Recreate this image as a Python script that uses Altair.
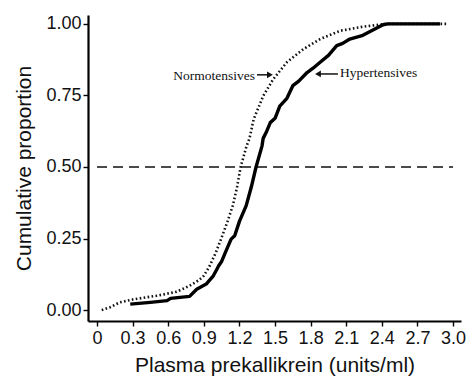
import altair as alt
import pandas as pd

# Normotensives (dotted ECDF)
norm_x = [0.04, 0.11, 0.19, 0.31, 0.50, 0.67, 0.78, 0.86, 0.90, 0.95, 1.00, 1.045,
          1.10, 1.144, 1.18, 1.21, 1.26, 1.285, 1.32, 1.40, 1.485, 1.60, 1.74, 1.88,
          2.05, 2.24, 2.44, 2.95]
norm_y = [0.0, 0.01, 0.027, 0.038, 0.05, 0.064, 0.085, 0.105, 0.12, 0.155, 0.20, 0.248,
          0.31, 0.365, 0.43, 0.50, 0.573, 0.60, 0.667, 0.748, 0.807, 0.866, 0.912, 0.947,
          0.976, 0.99, 1.0, 1.0]

# Hypertensives (solid ECDF, with its small steps)
hyp_x = [0.28, 0.45, 0.59, 0.62, 0.78, 0.84, 0.92, 0.98, 1.01, 1.025, 1.05, 1.08, 1.13,
         1.16, 1.20, 1.257, 1.30, 1.34, 1.39, 1.40, 1.43, 1.46, 1.50, 1.54, 1.60, 1.65,
         1.70, 1.77, 1.82, 1.88, 1.95, 2.02, 2.07, 2.13, 2.24, 2.41, 2.45, 2.89]
hyp_y = [0.021, 0.027, 0.033, 0.041, 0.048, 0.073, 0.091, 0.12, 0.143, 0.155, 0.17, 0.20, 0.248,
         0.26, 0.31, 0.365, 0.43, 0.50, 0.573, 0.60, 0.625, 0.655, 0.67, 0.713, 0.74, 0.784,
         0.80, 0.83, 0.845, 0.866, 0.89, 0.924, 0.932, 0.947, 0.96, 0.997, 1.0, 1.0]

x_ticks = [0, 0.3, 0.6, 0.9, 1.2, 1.5, 1.8, 2.1, 2.4, 2.7, 3.0]
y_ticks = [0, 0.25, 0.5, 0.75, 1.0]

ref_x = [0.0, 3.0]
ref_y = [0.5, 0.5]

labels = ["Normotensives", "Hypertensives"]
label_x = [1.331, 2.047]
label_y = [0.804, 0.813]
arrow_tail = [1.348, 2.03]
arrow_head = [1.457, 1.862]
arrow_y = [0.822, 0.825]
arrow_shape = ["triangle-right", "triangle-left"]

xs = alt.Scale(domain=[-0.076, 3.067], nice=False, zero=False)
ys = alt.Scale(domain=[-0.038, 1.031], nice=False, zero=False)

x_axis = alt.Axis(
    values=x_ticks,
    labelExpr="datum.value == 0 ? '0' : format(datum.value, '.1f')",
    title="Plasma prekallikrein (units/ml)",
    grid=False,
)
y_axis = alt.Axis(
    values=y_ticks,
    format=".2f",
    title="Cumulative proportion",
    grid=False,
)

norm_df = pd.DataFrame({"x": norm_x, "y": norm_y, "o": list(range(len(norm_x)))})
hyp_df = pd.DataFrame({"x": hyp_x, "y": hyp_y, "o": list(range(len(hyp_x)))})
ref_df = pd.DataFrame({"x": ref_x, "y": ref_y})
lab_df = pd.DataFrame({"x": label_x, "y": label_y, "t": labels})
arr_df = pd.DataFrame({"x": arrow_tail, "x2": arrow_head, "y": arrow_y, "s": arrow_shape})

X = alt.X("x:Q", scale=xs, axis=x_axis)
Y = alt.Y("y:Q", scale=ys, axis=y_axis)

norm = alt.Chart(norm_df).mark_line(
    color="#111", strokeWidth=2.6, strokeDash=[1.6, 2.4], strokeCap="butt"
).encode(x=X, y=Y, order="o:Q")

hyp = alt.Chart(hyp_df).mark_line(
    color="#000", strokeWidth=3.4, strokeJoin="round"
).encode(x=X, y=Y, order="o:Q")

ref = alt.Chart(ref_df).mark_line(
    color="#111", strokeWidth=1.6, strokeDash=[10, 6]
).encode(x=X, y=Y)

text_norm = alt.Chart(lab_df.iloc[[0]]).mark_text(
    font="Liberation Serif", fontSize=13.5, align="right", baseline="alphabetic", color="#111"
).encode(x=X, y=Y, text="t:N")
text_hyp = alt.Chart(lab_df.iloc[[1]]).mark_text(
    font="Liberation Serif", fontSize=13.5, align="left", baseline="alphabetic", color="#111"
).encode(x=X, y=Y, text="t:N")

shaft = alt.Chart(arr_df).mark_rule(color="#111", strokeWidth=1.5).encode(
    x=X, x2="x2:Q", y=Y
)
heads = alt.Chart(arr_df).mark_point(filled=True, color="#111", size=45, opacity=1).encode(
    x=alt.X("x2:Q", scale=xs, axis=x_axis),
    y=Y,
    shape=alt.Shape("s:N", scale=None),
)

chart = alt.layer(ref, norm, hyp, shaft, heads, text_norm, text_hyp).properties(
    width=373,
    height=306,
    autosize=alt.AutoSizeParams(type="none"),
    padding={"left": 80, "top": 7, "right": 7, "bottom": 58},
).configure_view(stroke=None).configure_axis(
    domainColor="#000",
    domainWidth=2.2,
    tickColor="#000",
    tickWidth=1.4,
    tickSize=5,
    labelFont="Liberation Sans",
    labelFontSize=18,
    labelColor="#111",
    titleFont="Liberation Sans",
    titleFontSize=21,
    titleFontWeight="normal",
    titleColor="#111",
).configure_axisX(
    labelPadding=3, titlePadding=7, labelFlush=False
).configure_axisY(
    labelPadding=2, titlePadding=11
)

chart.save("out.html", embed_options={"renderer": "svg", "actions": False})
